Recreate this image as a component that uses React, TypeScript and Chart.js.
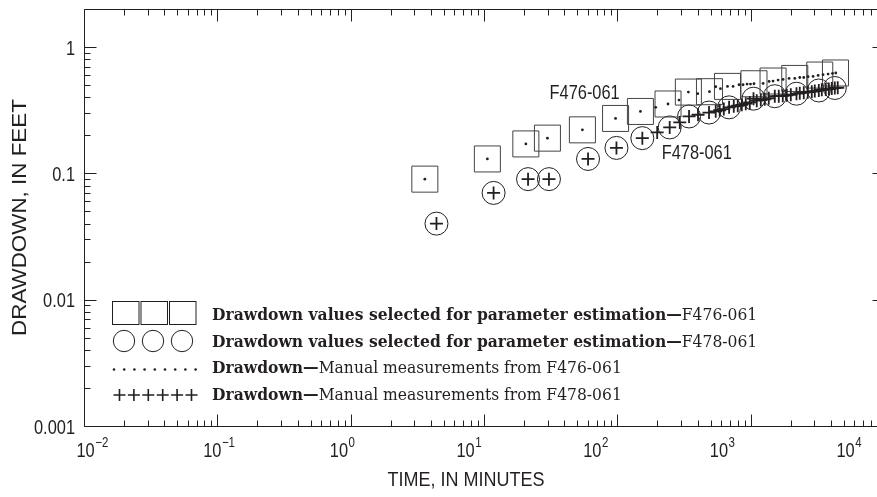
import React, { useEffect, useRef } from "react";
import { Chart, registerables } from "chart.js";

Chart.register(...registerables);

// ---------- DATA ----------
// Selected drawdown values, F476-061 (squares)
const squareTimes = [3.6, 10.6, 20.6, 29.9, 54.7, 97, 149, 240, 341, 491, 670, 1059, 1472, 2142, 3297, 4326];
const squareDrawdowns = [0.09, 0.13, 0.171, 0.19, 0.221, 0.272, 0.309, 0.354, 0.44, 0.443, 0.488, 0.512, 0.538, 0.564, 0.6, 0.623];

// Selected drawdown values, F478-061 (circles)
const circleTimes = [4.4, 11.8, 21.4, 30.7, 60.3, 98.5, 154, 247, 345, 487, 689, 1050, 1517, 2206, 3243, 4276];
const circleDrawdowns = [0.04, 0.07, 0.09, 0.09, 0.13, 0.159, 0.19, 0.231, 0.282, 0.303, 0.333, 0.39, 0.408, 0.427, 0.453, 0.474];

// Manual measurements, F476-061 (dots)
const dotTimes = [3.6, 10.6, 20.6, 29.9, 54.7, 97, 149, 194, 240, 290, 341, 401, 491, 547, 593, 670, 738, 818, 877, 940, 997, 1059, 1239, 1374, 1472, 1606, 1750, 1941, 2142, 2335, 2502, 2696, 2939, 3205, 3491, 3808, 4111, 4348];
const dotDrawdowns = [0.09, 0.13, 0.171, 0.19, 0.221, 0.272, 0.309, 0.333, 0.354, 0.38, 0.44, 0.427, 0.443, 0.485, 0.468, 0.488, 0.488, 0.503, 0.503, 0.509, 0.509, 0.512, 0.515, 0.534, 0.538, 0.548, 0.554, 0.564, 0.564, 0.574, 0.574, 0.582, 0.585, 0.596, 0.604, 0.611, 0.618, 0.623];

// Manual measurements, F478-061 (pluses)
const plusTimes = [4.4, 11.8, 21.4, 30.7, 60.3, 98.5, 154, 199, 247, 294, 345, 403, 487, 547, 586, 629, 689, 747, 800, 858, 919, 985, 1050, 1111, 1191, 1276, 1367, 1517, 1625, 1741, 1866, 2000, 2206, 2335, 2502, 2681, 2873, 3027, 3243, 3415, 3659, 3855, 4058, 4276, 4498];
const plusDrawdowns = [0.04, 0.07, 0.09, 0.09, 0.13, 0.159, 0.19, 0.211, 0.231, 0.253, 0.282, 0.291, 0.303, 0.31, 0.316, 0.323, 0.333, 0.339, 0.343, 0.349, 0.356, 0.364, 0.39, 0.376, 0.38, 0.386, 0.393, 0.408, 0.408, 0.411, 0.415, 0.419, 0.427, 0.431, 0.435, 0.439, 0.443, 0.448, 0.453, 0.459, 0.462, 0.465, 0.469, 0.474, 0.476];

// Axes
const xMin = 0.01;
const xMax = 10000;
const yMin = 0.001;
const yMax = 2;
const xTickExponents = [-2, -1, 0, 1, 2, 3, 4];
const xTickSuperscripts = ["\u22122", "\u22121", "0", "1", "2", "3", "4"];
const yTickValues = [0.001, 0.01, 0.1, 1];
const yTickLabels = ["0.001", "0.01", "0.1", "1"];
const xTitle = "TIME, IN MINUTES";
const yTitle = "DRAWDOWN, IN FEET";

// Well labels (placed at data coordinates)
const wellLabels = ["F476-061", "F478-061"];
const wellLabelTimes = [31, 215];
const wellLabelDrawdowns = [0.427, 0.143];

// Legend
const legendBold = [
  "Drawdown values selected for parameter estimation\u2014",
  "Drawdown values selected for parameter estimation\u2014",
  "Drawdown\u2014",
  "Drawdown\u2014",
];
const legendRegular = ["F476-061", "F478-061", "Manual measurements from F476-061", "Manual measurements from F478-061"];

// ---------- STYLE ----------
const INK = "#231f20";
const SANS = "'Liberation Sans', Arial, sans-serif";
const SERIF = "'DejaVu Serif', 'Liberation Serif', serif";
const NARROW_SCALE = 0.82;
const SERIF_SCALE = 0.915;

const toXY = (xs: number[], ys: number[]) => xs.map((x, i) => ({ x, y: ys[i] }));

function drawText(ctx: CanvasRenderingContext2D, text: string, x: number, y: number, sx: number, align: CanvasTextAlign, rot = 0) {
  ctx.save();
  ctx.translate(x, y);
  if (rot) ctx.rotate(rot);
  ctx.scale(sx, 1);
  ctx.textAlign = align;
  ctx.fillText(text, 0, 0);
  ctx.restore();
}

const axesPlugin = {
  id: "usgsAxes",
  beforeDatasetsDraw(chart: any) {
    const { ctx, chartArea, scales } = chart;
    const xs = scales.x;
    const ys = scales.y;
    const { left, right, top, bottom } = chartArea;
    const L = Math.round(left) + 0.5;
    const R = Math.round(right) + 0.5;
    const T = Math.round(top) + 0.5;
    const B = Math.round(bottom) + 0.5;
    ctx.save();
    ctx.strokeStyle = INK;
    ctx.lineWidth = 1;
    ctx.beginPath();
    ctx.rect(L, T, R - L, B - T);
    ctx.stroke();

    ctx.beginPath();
    for (let k = -2; k <= 4; k++) {
      for (let m = 1; m <= 9; m++) {
        const v = m * Math.pow(10, k);
        if (v > xMax * 1.0001) break;
        const p = Math.round(xs.getPixelForValue(v)) + 0.5;
        const len = m === 1 ? 12 : 6;
        ctx.moveTo(p, B);
        ctx.lineTo(p, B - len);
        ctx.moveTo(p, T);
        ctx.lineTo(p, T + len);
      }
    }
    for (let k = -3; k <= 0; k++) {
      for (let m = 1; m <= 9; m++) {
        const v = m * Math.pow(10, k);
        if (v > yMax * 1.0001) break;
        const p = Math.round(ys.getPixelForValue(v)) + 0.5;
        const len = m === 1 ? 12 : 6;
        ctx.moveTo(L, p);
        ctx.lineTo(L + len, p);
        ctx.moveTo(R, p);
        ctx.lineTo(R - len, p);
      }
    }
    ctx.stroke();

    ctx.fillStyle = INK;
    ctx.font = `20px ${SANS}`;
    ctx.textBaseline = "middle";
    yTickValues.forEach((v, i) => {
      drawText(ctx, yTickLabels[i], left - 9, ys.getPixelForValue(v) + 2, NARROW_SCALE, "right");
    });

    const decade = xs.getPixelForValue(10) - xs.getPixelForValue(1);
    ctx.textBaseline = "alphabetic";
    xTickExponents.forEach((k, i) => {
      const x0 = xs.getPixelForValue(Math.pow(10, k)) - 7.5 - (k + 2) * decade * 0.05;
      ctx.font = `20px ${SANS}`;
      drawText(ctx, "10", x0, bottom + 31, NARROW_SCALE, "left");
      const w = ctx.measureText("10").width * NARROW_SCALE;
      ctx.font = `14px ${SANS}`;
      drawText(ctx, xTickSuperscripts[i], x0 + w + 0.5, bottom + 20.5, NARROW_SCALE, "left");
    });

    ctx.font = `20px ${SANS}`;
    ctx.textBaseline = "alphabetic";
    drawText(ctx, xTitle, left + 0.4775 * (right - left), bottom + 60, 0.9, "center");
    drawText(ctx, yTitle, 26, (top + bottom) / 2, 1.12, "center", -Math.PI / 2);

    ctx.restore();
  },
  afterDatasetsDraw(chart: any) {
    const { ctx, scales } = chart;
    const xs = scales.x;
    const ys = scales.y;
    ctx.save();
    ctx.fillStyle = INK;
    ctx.strokeStyle = INK;
    ctx.font = `20px ${SANS}`;
    ctx.textBaseline = "middle";
    wellLabels.forEach((t, i) => {
      drawText(ctx, t, xs.getPixelForValue(wellLabelTimes[i]), ys.getPixelForValue(wellLabelDrawdowns[i]), NARROW_SCALE, "left");
    });

    // legend symbols
    ctx.lineWidth = 1;
    for (let i = 0; i < 3; i++) {
      ctx.strokeRect(112.5 + i * 28.5, 301.5, 26.5, 23);
    }
    for (let i = 0; i < 3; i++) {
      ctx.beginPath();
      ctx.arc(124 + i * 29, 341, 10.7, 0, Math.PI * 2);
      ctx.stroke();
    }
    for (let i = 0; i < 9; i++) {
      ctx.beginPath();
      ctx.arc(114 + i * 10.2, 369.5, 1.3, 0, Math.PI * 2);
      ctx.fill();
    }
    ctx.lineWidth = 1.6;
    ctx.beginPath();
    for (let i = 0; i < 6; i++) {
      const cx = 119.5 + i * 14.4;
      ctx.moveTo(cx - 6, 395);
      ctx.lineTo(cx + 6, 395);
      ctx.moveTo(cx, 389);
      ctx.lineTo(cx, 401);
    }
    ctx.stroke();

    // legend text
    const baselines = [320, 346.5, 373, 399.5];
    ctx.textBaseline = "alphabetic";
    legendBold.forEach((b, i) => {
      ctx.font = `bold 17px ${SERIF}`;
      drawText(ctx, b, 212, baselines[i], SERIF_SCALE, "left");
      const w = ctx.measureText(b).width * SERIF_SCALE;
      ctx.font = `17px ${SERIF}`;
      drawText(ctx, legendRegular[i], 212 + w, baselines[i], SERIF_SCALE, "left");
    });
    ctx.restore();
  },
};

export default function App() {
  const ref = useRef<HTMLCanvasElement>(null);
  useEffect(() => {
    if (!ref.current) return;
    const chart = new Chart(ref.current, {
      type: "scatter",
      data: {
        datasets: [
          {
            label: "Manual F478-061",
            data: toXY(plusTimes, plusDrawdowns),
            pointStyle: "cross",
            pointRadius: 6.5,
            borderColor: INK,
            borderWidth: 1.8,
            backgroundColor: INK,
          },
          {
            label: "Manual F476-061",
            data: toXY(dotTimes, dotDrawdowns),
            pointStyle: "circle",
            pointRadius: 1.4,
            borderWidth: 0,
            backgroundColor: INK,
            borderColor: INK,
          },
          {
            label: "Selected F476-061",
            data: toXY(squareTimes, squareDrawdowns),
            pointStyle: "rect",
            pointRadius: 18.4,
            borderColor: "#444444",
            borderWidth: 1,
            backgroundColor: "rgba(0,0,0,0)",
          },
          {
            label: "Selected F478-061",
            data: toXY(circleTimes, circleDrawdowns),
            pointStyle: "circle",
            pointRadius: 11.5,
            borderColor: INK,
            borderWidth: 1,
            backgroundColor: "rgba(0,0,0,0)",
          },
        ],
      },
      options: {
        responsive: false,
        animation: false,
        events: [],
        layout: { autoPadding: false, padding: { left: 84, top: 9, right: 16, bottom: 71 } },
        scales: {
          x: { type: "logarithmic", min: xMin, max: xMax, display: false },
          y: { type: "logarithmic", min: yMin, max: yMax, display: false },
        },
        plugins: {
          legend: { display: false },
          tooltip: { enabled: false },
        },
      },
      plugins: [axesPlugin],
    });
    return () => chart.destroy();
  }, []);
  return (
    <div style={{ position: "fixed", left: 0, top: 0, width: 877, height: 497, overflow: "hidden", background: "#fff" }}>
      <canvas ref={ref} width={900} height={497} style={{ display: "block" }} />
    </div>
  );
}
